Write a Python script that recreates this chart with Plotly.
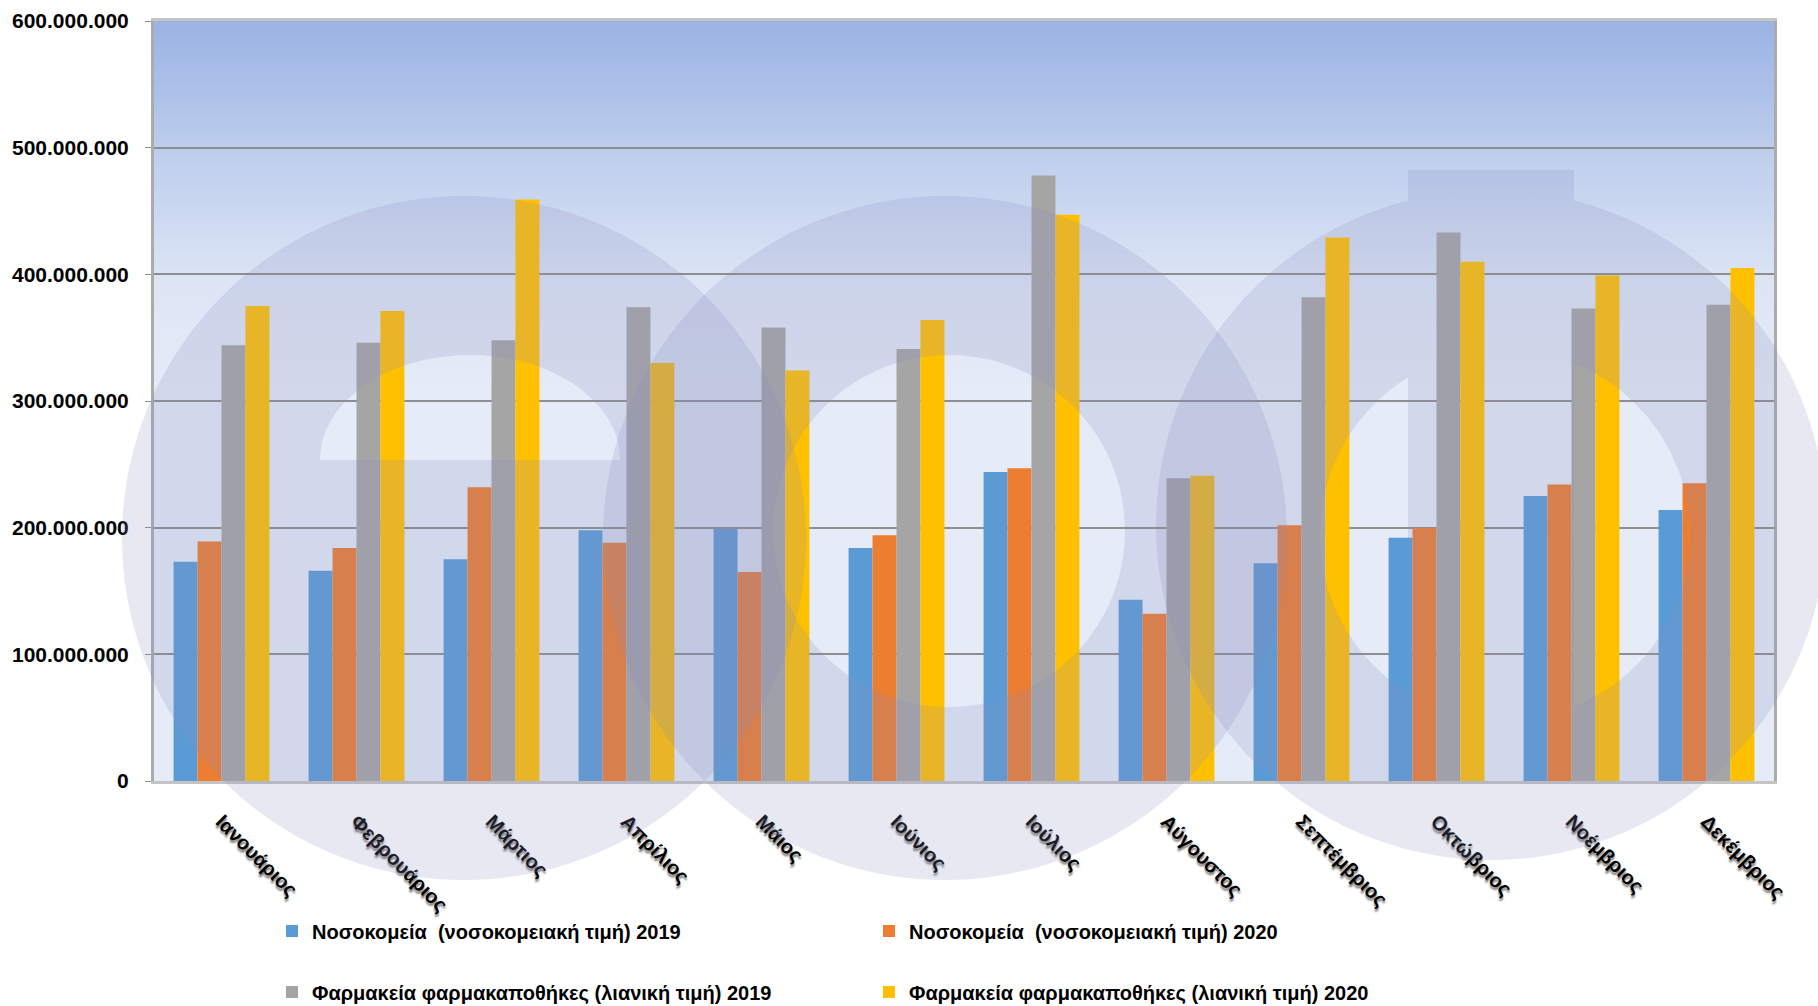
import numpy as np
import plotly.graph_objects as go

# ---------------- data ----------------
months = ["Ιανουάριος", "Φεβρουάριος", "Μάρτιος", "Απρίλιος", "Μάιος", "Ιούνιος",
          "Ιούλιος", "Αύγουστος", "Σεπτέμβριος", "Οκτώβριος", "Νοέμβριος", "Δεκέμβριος"]
hosp_2019 = [173000000, 166000000, 175000000, 198000000, 199000000, 184000000,
             244000000, 143000000, 172000000, 192000000, 225000000, 214000000]
hosp_2020 = [189000000, 184000000, 232000000, 188000000, 165000000, 194000000,
             247000000, 132000000, 202000000, 200000000, 234000000, 235000000]
pharm_2019 = [344000000, 346000000, 348000000, 374000000, 358000000, 341000000,
              478000000, 239000000, 382000000, 433000000, 373000000, 376000000]
pharm_2020 = [375000000, 371000000, 459000000, 330000000, 324000000, 364000000,
              447000000, 241000000, 429000000, 410000000, 399000000, 405000000]
series_names = ["Νοσοκομεία  (νοσοκομειακή τιμή) 2019",
                "Νοσοκομεία  (νοσοκομειακή τιμή) 2020",
                "Φαρμακεία φαρμακαποθήκες (λιανική τιμή) 2019",
                "Φαρμακεία φαρμακαποθήκες (λιανική τιμή) 2020"]
y_ticks = [0, 100000000, 200000000, 300000000, 400000000, 500000000, 600000000]

# ---------------- layout geometry (pixels) ----------------
FW, FH = 1818, 1006
L, R, T, B = 154, 1774, 21, 781
W, H = R - L, B - T

colors = ["#5b9bd5", "#ed7d31", "#a5a5a5", "#ffc000"]
FONT = "Liberation Sans, Arial, sans-serif"

fig = go.Figure()
for vals, name, col, lg in zip([hosp_2019, hosp_2020, pharm_2019, pharm_2020],
                               series_names, colors,
                               ["legend", "legend", "legend2", "legend2"]):
    fig.add_trace(go.Bar(x=months, y=vals, name=name, marker_color=col,
                         marker_line_width=0, legend=lg))


def P(x, y):
    return f"{(x - L) / W:.5f},{(B - y) / H:.5f}"


def path_from(points):
    return "M" + "L".join(P(x, y) for x, y in points) + "Z"


def circle_pts(cx, cy, r, n=160):
    t = np.linspace(0, 2 * np.pi, n, endpoint=False)
    return list(zip(cx + r * np.cos(t), cy + r * np.sin(t)))


shapes = []

# background gradient (top of plot area)
stops = [(T, (155, 179, 227)), (150, (188, 205, 237)), (280, (221, 229, 245)),
         (390, (229, 235, 247))]
step = 8
y = T
while y < 390:
    y2 = min(y + step, 390)
    ym = (y + y2) / 2
    for (a, ca), (b, cb) in zip(stops[:-1], stops[1:]):
        if a <= ym <= b:
            f = (ym - a) / (b - a)
            c = tuple(int(round(ca[i] + (cb[i] - ca[i]) * f)) for i in range(3))
            break
    shapes.append(dict(type="rect", xref="paper", yref="paper", x0=0, x1=1,
                       y0=(B - y2 - 0.5) / H, y1=(B - y) / H, layer="below",
                       fillcolor=f"rgb{c}", line=dict(width=0)))
    y = y2

# watermark (semi-transparent overlay)
wm = "rgba(135,142,190,0.2)"
pA = path_from(circle_pts(464, 538, 342))
tt = np.linspace(0, np.pi, 60)
pA += path_from(list(zip(470 + 150 * np.cos(tt), 460 - 105 * np.sin(tt))))
pB = path_from(circle_pts(945, 538, 342)) + path_from(circle_pts(949, 531, 176))
cx, cy, r = 1491, 525, 335
icx, icy, ir = 1505, 535, 185
sx0, sx1 = 1408, 1574
pC = path_from(circle_pts(cx, cy, r))
ta = np.arccos((sx0 - icx) / ir)
tl = np.linspace(ta, 2 * np.pi - ta, 60)
pC += path_from(list(zip(icx + ir * np.cos(tl), icy + ir * np.sin(tl))))
tb = np.arccos((sx1 - icx) / ir)
trr = np.linspace(-tb, tb, 60)
pC += path_from(list(zip(icx + ir * np.cos(trr), icy + ir * np.sin(trr))))
xs = np.linspace(sx1, sx0, 40)
stem = [(sx0, 170), (sx1, 170)] + [(xx, cy - np.sqrt(r * r - (xx - cx) ** 2)) for xx in xs]
pS = path_from(stem)
for p in [pA, pB, pC, pS]:
    shapes.append(dict(type="path", path=p, xref="paper", yref="paper",
                       fillcolor=wm, line=dict(width=0), layer="above",
                       fillrule="evenodd"))

legend_font = dict(family=FONT, size=20, weight="bold", color="black")

fig.update_layout(
    width=FW, height=FH,
    margin=dict(l=L, r=FW - R, t=T, b=FH - B, autoexpand=False),
    paper_bgcolor="white",
    plot_bgcolor="rgb(229,235,247)",
    separators=",.",
    barmode="group", bargap=0.29, bargroupgap=0,
    font=dict(family=FONT, color="black"),
    shapes=shapes,
    legend=dict(orientation="h", x=(272 - L) / W, xanchor="left",
                y=(B - 931) / H, yanchor="middle",
                entrywidth=552, entrywidthmode="pixels",
                font=legend_font, bgcolor="rgba(0,0,0,0)", itemclick=False),
    legend2=dict(orientation="h", x=(272 - L) / W, xanchor="left",
                 y=(B - 992) / H, yanchor="middle",
                 entrywidth=552, entrywidthmode="pixels",
                 font=legend_font, bgcolor="rgba(0,0,0,0)", itemclick=False),
    xaxis=dict(tickangle=45, ticks="", showgrid=False,
               tickfont=dict(family=FONT, size=20, weight="bold", color="black",
                             shadow="2px 2px 2px #808080"),
               ticklabelstandoff=18,
               showline=True, linecolor="#c4c4c4", linewidth=3, mirror=True),
    yaxis=dict(range=[0, 600000000], tickvals=y_ticks, tickformat=",d",
               ticks="outside", ticklen=6, tickcolor="#8c8c8c",
               tickfont=dict(family=FONT, size=21, weight="bold", color="black"),
               ticklabelstandoff=12,
               showgrid=True, gridcolor="#8e8e8e", gridwidth=1.5,
               zeroline=False,
               showline=True, linecolor="#ababab", linewidth=3, mirror=True),
)

fig.write_html("out.html",
               config={"displayModeBar": False},
               post_script="document.body.style.margin='0';"
                           "document.body.style.overflow='hidden';")
